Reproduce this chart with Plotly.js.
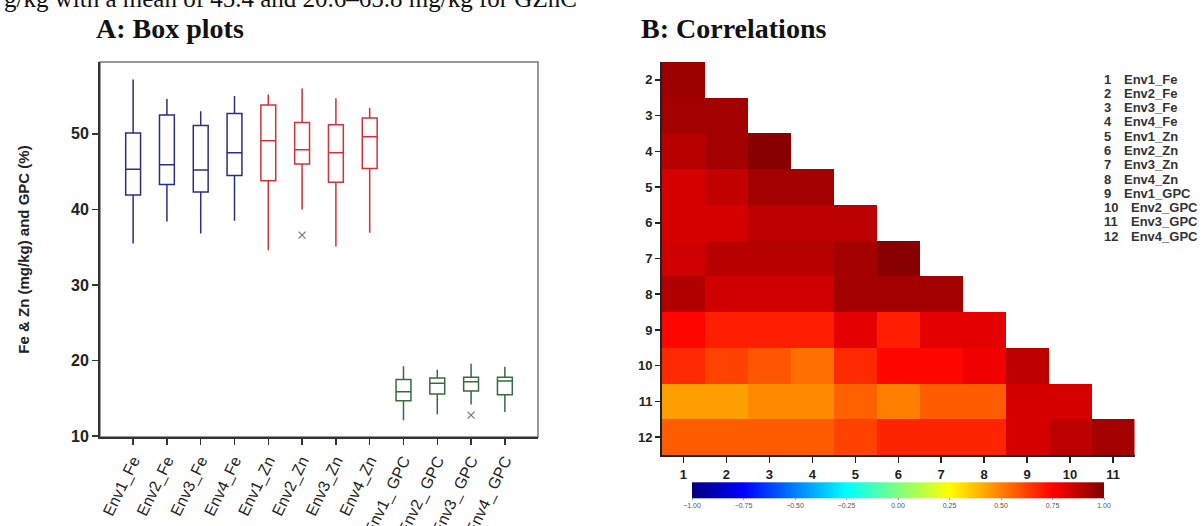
<!DOCTYPE html>
<html><head><meta charset="utf-8">
<script src="https://cdn.plot.ly/plotly-3.0.1.min.js"></script>
<style>html,body{margin:0;padding:0;background:#fff;}#c{width:1202px;height:526px;}</style>
</head><body><div id="c"></div>
<script>
// ---- Box plot data ----
const feCats = ['Env1_Fe','Env2_Fe','Env3_Fe','Env4_Fe'];
const znCats = ['Env1_Zn','Env2_Zn','Env3_Zn','Env4_Zn'];
const gpcCats = ['Env1_ GPC','Env2_ GPC','Env3_ GPC','Env4_ GPC'];
const feLow = [35.5, 38.4, 36.8, 38.5];
const feQ1  = [41.9, 43.3, 42.3, 44.5];
const feMed = [45.3, 45.9, 45.2, 47.5];
const feQ3  = [50.1, 52.5, 51.1, 52.7];
const feUp  = [57.2, 54.6, 53.0, 55.0];
const znLow = [34.6, 40.0, 35.1, 36.9];
const znQ1  = [43.8, 46.0, 43.6, 45.4];
const znMed = [49.1, 47.9, 47.5, 49.6];
const znQ3  = [53.8, 51.5, 51.2, 52.1];
const znUp  = [55.2, 56.0, 54.7, 53.4];
const gpcLow = [12.1, 12.9, 14.2, 13.2];
const gpcQ1  = [14.7, 15.6, 16.0, 15.5];
const gpcMed = [15.9, 17.0, 17.2, 17.3];
const gpcQ3  = [17.5, 17.7, 17.8, 17.8];
const gpcUp  = [19.25, 18.8, 19.6, 19.2];
const outlierCats = ['Env2_Zn','Env3_ GPC'];
const outlierVals = [36.6, 12.8];

// ---- Correlation data (lower triangle) ----
const corrCols = [1,2,3,4,5,6,7,8,9,10,11];
const corrRowsLbl = [2,3,4,5,6,7,8,9,10,11,12];
const r2  = [0.94];
const r3  = [0.93, 0.93];
const r4  = [0.89, 0.93, 0.98];
const r5  = [0.83, 0.87, 0.93, 0.93];
const r6  = [0.83, 0.83, 0.88, 0.88, 0.88];
const r7  = [0.84, 0.89, 0.89, 0.89, 0.93, 0.98];
const r8  = [0.90, 0.84, 0.84, 0.84, 0.93, 0.93, 0.93];
const r9  = [0.74, 0.69, 0.69, 0.69, 0.80, 0.69, 0.80, 0.80];
const r10 = [0.67, 0.62, 0.58, 0.53, 0.67, 0.74, 0.74, 0.78, 0.88];
const r11 = [0.44, 0.44, 0.48, 0.48, 0.56, 0.50, 0.57, 0.57, 0.83, 0.83];
const r12 = [0.57, 0.57, 0.57, 0.57, 0.62, 0.68, 0.68, 0.68, 0.83, 0.88, 0.93];
const corrRows = [r2,r3,r4,r5,r6,r7,r8,r9,r10,r11,r12];
const legendNames = ['Env1_Fe','Env2_Fe','Env3_Fe','Env4_Fe','Env1_Zn','Env2_Zn','Env3_Zn','Env4_Zn','Env1_GPC','Env2_GPC','Env3_GPC','Env4_GPC'];
const cbTicks = [-1,-0.75,-0.5,-0.25,0,0.25,0.5,0.75,1];

const W = 1202, H = 526;
const px = v => v / W, py = v => 1 - v / H;

function boxTrace(cats, lo, q1, med, q3, up, color) {
  return {type:'box', x:cats, lowerfence:lo, q1:q1, median:med, q3:q3, upperfence:up,
    xaxis:'x', yaxis:'y', boxpoints:false, width:0.44, whiskerwidth:0,
    line:{color:color, width:1.5}, fillcolor:'rgba(255,255,255,0)', hoverinfo:'skip', showlegend:false};
}
const allCats = feCats.concat(znCats, gpcCats);
const z = corrRows.map(r => corrCols.map((c,i) => i < r.length ? r[i] : null));

const data = [
  boxTrace(feCats, feLow, feQ1, feMed, feQ3, feUp, '#2e2e80'),
  boxTrace(znCats, znLow, znQ1, znMed, znQ3, znUp, '#cf333a'),
  boxTrace(gpcCats, gpcLow, gpcQ1, gpcMed, gpcQ3, gpcUp, '#3b6b3b'),
  {type:'scatter', mode:'markers', x:outlierCats, y:outlierVals, xaxis:'x', yaxis:'y',
   marker:{symbol:'x-thin-open', size:7, line:{color:'#777', width:1.2}, color:'#777'}, showlegend:false},
  {type:'heatmap', x:corrCols, y:corrRowsLbl, z:z, xaxis:'x2', yaxis:'y2', zmin:-1, zmax:1,
   colorscale:[[0,'#00007f'],[0.125,'#0000ff'],[0.375,'#00ffff'],[0.5,'#80ff80'],[0.625,'#ffff00'],[0.875,'#ff0000'],[1,'#7f0000']],
   hoverongaps:false,
   colorbar:{orientation:'h', x:px(692), xanchor:'left', y:py(496), yanchor:'middle',
     len:412, lenmode:'pixels', thickness:16, xpad:0, ypad:0, outlinewidth:0,
     tickvals:cbTicks, tickformat:'.2f', ticks:'outside', ticklen:2, tickcolor:'#999',
     tickfont:{family:'Arial', size:7, color:'#555'}}}
];

const annotations = [
  {text:'A: Box plots', xref:'paper', yref:'paper', x:px(94), y:py(28), xanchor:'left', yanchor:'middle', showarrow:false,
   font:{family:'Liberation Serif', size:28, color:'#111', weight:'bold'}},
  {text:'B: Correlations', xref:'paper', yref:'paper', x:px(639), y:py(28), xanchor:'left', yanchor:'middle', showarrow:false,
   font:{family:'Liberation Serif', size:28, color:'#111', weight:'bold'}},
  {text:'g/kg with a mean of 45.4 and 20.6–65.8 mg/kg for GZnC', xref:'paper', yref:'paper', x:px(2), y:py(-1), xanchor:'left', yanchor:'middle', showarrow:false,
   font:{family:'Liberation Serif', size:25, color:'#111'}}
];
legendNames.forEach((n,i) => {
  const yy = 79 + i*14.3;
  annotations.push({text:String(i+1), xref:'paper', yref:'paper', x:px(1102), y:py(yy), xanchor:'left', yanchor:'middle', showarrow:false,
    font:{family:'Arial', size:13, color:'#333', weight:'bold'}});
  annotations.push({text:n, xref:'paper', yref:'paper', x:px(i<9?1122:1129), y:py(yy), xanchor:'left', yanchor:'middle', showarrow:false,
    font:{family:'Arial', size:13, color:'#333', weight:'bold'}});
});

const layout = {
  width:W, height:H, margin:{l:0,r:0,t:0,b:0}, paper_bgcolor:'#fff', plot_bgcolor:'#fff',
  showlegend:false, boxmode:'overlay', annotations:annotations,
  xaxis:{domain:[px(100), px(538)], anchor:'y', type:'category', categoryorder:'array', categoryarray:allCats,
    range:[-0.98, 11.98], showgrid:false, zeroline:false, showline:true, linecolor:'#333', linewidth:2,
    ticks:'outside', ticklen:6, tickwidth:1.5, tickcolor:'#333', tickangle:-64,
    tickfont:{family:'Arial', size:16, color:'#222'}},
  yaxis:{domain:[py(437), py(62)], anchor:'x', range:[9.9, 59.5], tickvals:[10,20,30,40,50],
    showgrid:false, zeroline:false, showline:true, linecolor:'#333', linewidth:2,
    ticks:'outside', ticklen:6, tickwidth:1.5, tickcolor:'#333',
    tickfont:{family:'Arial', size:16, color:'#222', weight:'bold'},
    title:{text:'Fe & Zn (mg/kg) and GPC (%)', standoff:38, font:{family:'Arial', size:15, color:'#222', weight:'bold'}}},
  xaxis2:{domain:[px(662), px(1134.5)], anchor:'y2', range:[0.5, 11.5], tickvals:corrCols,
    showgrid:false, zeroline:false, showline:true, linecolor:'#222', linewidth:2,
    ticks:'outside', ticklen:6, tickwidth:1.5, tickcolor:'#222',
    tickfont:{family:'Arial', size:13, color:'#222', weight:'bold'}},
  yaxis2:{domain:[py(455), py(62)], anchor:'x2', range:[12.5, 1.5], tickvals:corrRowsLbl,
    showgrid:false, zeroline:false, showline:true, linecolor:'#222', linewidth:2,
    ticks:'outside', ticklen:5, tickwidth:1.5, tickcolor:'#222',
    tickfont:{family:'Arial', size:13, color:'#222', weight:'bold'}},
  shapes:[{type:'rect', xref:'paper', yref:'paper', x0:px(100), x1:px(538), y0:py(437), y1:py(62),
    line:{color:'#777', width:1.5}, fillcolor:'rgba(0,0,0,0)', layer:'below'}]
};
Plotly.newPlot('c', data, layout, {displayModeBar:false, staticPlot:true});
</script></body></html>
